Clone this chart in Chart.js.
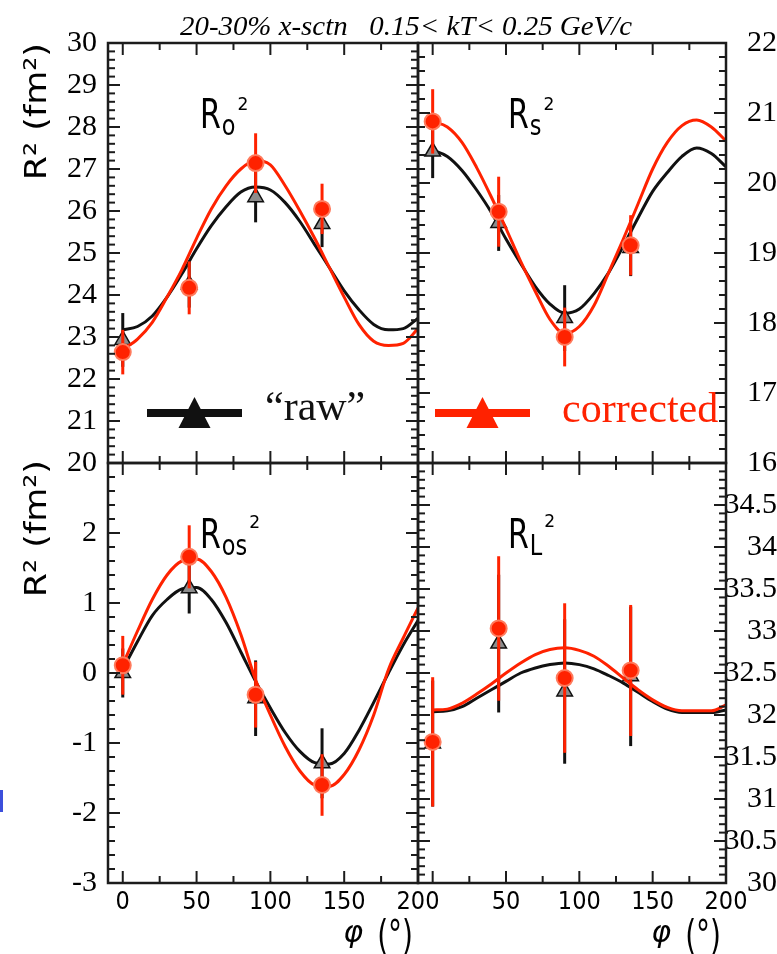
<!DOCTYPE html>
<html>
<head>
<meta charset="utf-8">
<script src="https://cdn.jsdelivr.net/npm/chart.js@4.4.1/dist/chart.umd.min.js"></script>
<style>
  html, body { margin: 0; padding: 0; background: #fff; }
  #fig { position: relative; width: 777px; height: 954px; overflow: hidden; background: #fff; }
  #fig canvas { position: absolute; }
  #edge { position: absolute; left: 0; top: 790px; width: 3px; height: 22px; background: #3c4fdc; }
</style>
</head>
<body>
<div id="fig">
  <canvas id="cTL" width="777" height="480" style="left:0;top:0"></canvas>
  <canvas id="cBL" width="777" height="514" style="left:0;top:440px"></canvas>
  <canvas id="cTR" width="377" height="480" style="left:400px;top:0"></canvas>
  <canvas id="cBR" width="377" height="514" style="left:400px;top:440px"></canvas>
  <div id="edge"></div>
</div>
<script>
// Azimuthal angles of the measured points and of the sampled fit curves (degrees)
const phiPts = [0, 45, 90, 135];
const phiFit = [0, 10, 20, 30, 40, 50, 60, 70, 80, 90, 100, 110, 120, 130, 140, 150, 160, 170, 180, 190, 200];

// R_o^2
const roRaw = [22.93, 24.25, 26.33, 25.69];
const roRawErr = [0.64, 0.55, 0.6, 0.55];
const roCor = [22.64, 24.17, 27.14, 26.05];
const roCorErr = [0.53, 0.63, 0.71, 0.6];
const roRawFit = [23.17, 23.25, 23.5, 23.95, 24.5, 25.1, 25.65, 26.1, 26.45, 26.57, 26.5, 26.2, 25.75, 25.2, 24.65, 24.1, 23.65, 23.3, 23.17, 23.2, 23.45];
const roCorFit = [22.7, 22.95, 23.35, 23.95, 24.6, 25.35, 26.05, 26.6, 27.0, 27.2, 27.1, 26.6, 26.0, 25.35, 24.65, 23.95, 23.3, 22.9, 22.8, 22.85, 23.2];

// R_s^2
const rsRaw = [20.45, 19.43, 18.07, 19.07];
const rsRawErr = [0.38, 0.4, 0.47, 0.4];
const rsCor = [20.88, 19.59, 17.8, 19.11];
const rsCorErr = [0.46, 0.5, 0.42, 0.43];
const rsRawFit = [20.47, 20.38, 20.18, 19.9, 19.58, 19.2, 18.85, 18.52, 18.27, 18.14, 18.2, 18.42, 18.72, 19.1, 19.5, 19.88, 20.15, 20.38, 20.5, 20.42, 20.23];
const rsCorFit = [20.88, 20.8, 20.58, 20.22, 19.8, 19.35, 18.88, 18.45, 18.05, 17.85, 17.95, 18.25, 18.72, 19.2, 19.7, 20.2, 20.58, 20.82, 20.9, 20.8, 20.6];

// R_os^2
const rosRaw = [0.0, 1.21, -0.36, -1.29];
const rosRawErr = [0.35, 0.36, 0.54, 0.5];
const rosCor = [0.11, 1.66, -0.31, -1.6];
const rosCorErr = [0.42, 0.45, 0.47, 0.44];
const rosRawFit = [0.05, 0.45, 0.82, 1.05, 1.2, 1.22, 1.05, 0.72, 0.3, -0.12, -0.5, -0.85, -1.12, -1.28, -1.3, -1.15, -0.82, -0.42, 0.0, 0.4, 0.75];
const rosCorFit = [0.12, 0.6, 1.05, 1.4, 1.6, 1.63, 1.45, 1.08, 0.55, -0.1, -0.6, -1.05, -1.4, -1.6, -1.62, -1.45, -1.1, -0.6, 0.05, 0.5, 0.93];

// R_L^2
const rlRaw = [31.66, 32.85, 32.28, 32.46];
const rlRawErr = [0.75, 0.82, 0.86, 0.83];
const rlCor = [31.68, 33.03, 32.44, 32.53];
const rlCorErr = [0.77, 0.86, 0.89, 0.78];
const rlRawFit = [32.04, 32.05, 32.1, 32.2, 32.3, 32.4, 32.5, 32.56, 32.6, 32.62, 32.6, 32.55, 32.47, 32.38, 32.27, 32.16, 32.07, 32.03, 32.03, 32.03, 32.06];
const rlCorFit = [32.06, 32.07, 32.14, 32.25, 32.37, 32.5, 32.62, 32.72, 32.78, 32.8, 32.77, 32.7, 32.58, 32.44, 32.3, 32.18, 32.09, 32.05, 32.05, 32.05, 32.12];

// Tick labels
const phiLabelsLeft = [0, 50, 100, 150, 200];
const phiLabelsRight = [50, 100, 150, 200];
const roTicks = [20, 21, 22, 23, 24, 25, 26, 27, 28, 29, 30];
const rsTicks = [16, 17, 18, 19, 20, 21, 22];
const rosTicks = [-3, -2, -1, 0, 1, 2];
const rlTicks = [30, 30.5, 31, 31.5, 32, 32.5, 33, 33.5, 34, 34.5];

const titleText = '20-30% x-sctn   0.15< kT< 0.25 GeV/c';

const RED = '#ff2200';
const RED_RING = '#ff7a5c';
const BLACK = '#111111';
const TRI_FILL = '#8c8c8c';
const SANS = '"DejaVu Sans", "Liberation Sans", sans-serif';
const SERIF = '"Liberation Serif", "DejaVu Serif", serif';
const TICK_SANS = '"DejaVu Sans Condensed", "Liberation Sans", sans-serif';

const pairs = (xs, ys) => xs.map((x, i) => ({ x, y: ys[i] }));

// text helper with optional horizontal squeeze; returns drawn width
function put(ctx, s, x, y, font, color, sx, align) {
  sx = sx || 1;
  ctx.save();
  ctx.font = font;
  ctx.fillStyle = color;
  ctx.textAlign = align || 'left';
  ctx.textBaseline = 'alphabetic';
  const w = ctx.measureText(s).width * sx;
  ctx.translate(x, y);
  ctx.scale(sx, 1);
  ctx.fillText(s, 0, 0);
  ctx.restore();
  return w;
}

// "R" with a subscript and a superscript 2
function radiusLabel(ctx, x, y, sub, supDy) {
  let cx = x;
  cx += put(ctx, 'R', cx, y, '40px ' + SANS, '#000', 0.75);
  cx += 1;
  cx += put(ctx, sub, cx, y + 7, '28px ' + SANS, '#000', 0.8);
  cx += 2;
  put(ctx, '2', cx, y + supDy, '18px ' + SANS, '#000', 0.95);
}

// rotated y-axis title, ending at the top of the panel
function yTitle(ctx, top) {
  ctx.save();
  ctx.translate(46, top);
  ctx.rotate(-Math.PI / 2);
  ctx.scale(1, 0.88);
  ctx.font = '35px ' + SANS;
  ctx.fillStyle = '#000';
  ctx.textAlign = 'right';
  ctx.textBaseline = 'alphabetic';
  ctx.fillText('R² (fm²)', 0, 0);
  ctx.restore();
}

// x-axis title at the right end of the axis
function xTitle(ctx, a) {
  const r = a.right - 5;
  const w = put(ctx, '(°)', r, a.bottom + 66, '40px ' + SANS, '#000', 0.7, 'right');
  put(ctx, 'φ', r - w - 14, a.bottom + 59, 'italic 30px ' + SANS, '#000', 1, 'right');
}

function legendItem(ctx, x0, x1, y, color, text, tx, ty) {
  ctx.save();
  ctx.strokeStyle = color;
  ctx.lineWidth = 8;
  ctx.beginPath();
  ctx.moveTo(x0, y);
  ctx.lineTo(x1, y);
  ctx.stroke();
  const cx = (x0 + x1) / 2;
  ctx.fillStyle = color;
  ctx.beginPath();
  ctx.moveTo(cx, y - 16);
  ctx.lineTo(cx + 16, y + 15);
  ctx.lineTo(cx - 16, y + 15);
  ctx.closePath();
  ctx.fill();
  ctx.restore();
  put(ctx, text, tx, ty, '42px ' + SERIF, color, 1);
}

// vertical error bars, drawn just before their marker dataset
const errorBars = {
  id: 'errorBars',
  beforeDatasetDraw(chart, args) {
    const ds = chart.data.datasets[args.index];
    if (!ds.errors) return;
    const { ctx, scales: { x, y } } = chart;
    ctx.save();
    ctx.strokeStyle = ds.errorColor;
    ctx.lineWidth = 3;
    ds.data.forEach((p, i) => {
      const e = ds.errors[i];
      const px = x.getPixelForValue(p.x);
      ctx.beginPath();
      ctx.moveTo(px, y.getPixelForValue(p.y - e));
      ctx.lineTo(px, y.getPixelForValue(p.y + e));
      ctx.stroke();
    });
    ctx.restore();
  }
};

// box frame with inward major/minor ticks on all four sides
const frame = {
  id: 'frame',
  afterDraw(chart, args, o) {
    const { ctx, chartArea: a, scales: { x, y } } = chart;
    ctx.save();
    ctx.strokeStyle = '#1c1c1c';
    ctx.lineWidth = 2;
    const seg = (x1, y1, x2, y2) => { ctx.beginPath(); ctx.moveTo(x1, y1); ctx.lineTo(x2, y2); ctx.stroke(); };
    const each = (min, max, minor, major, fn) => {
      for (let i = Math.ceil(min / minor - 1e-9); i * minor <= max + 1e-9; i++) {
        const v = i * minor;
        const isMajor = Math.abs(v / major - Math.round(v / major)) < 1e-6;
        fn(v, isMajor ? 12 : 7);
      }
    };
    each(x.min, x.max, o.xMinor, o.xMajor, (v, L) => {
      const px = x.getPixelForValue(v);
      seg(px, a.bottom, px, a.bottom - L);
      seg(px, a.top, px, a.top + L);
    });
    each(y.min, y.max, o.yMinor, o.yMajor, (v, L) => {
      const py = y.getPixelForValue(v);
      seg(a.left, py, a.left + L, py);
      seg(a.right, py, a.right - L, py);
    });
    ctx.lineWidth = 2.5;
    ctx.strokeRect(a.left, a.top, a.right - a.left, a.bottom - a.top);
    ctx.restore();
  }
};

// right-hand labels end at a common edge 44px beyond the frame
function rightPad(labels) {
  const c = document.createElement('canvas').getContext('2d');
  c.font = '30px ' + SERIF;
  const widest = Math.max(...labels.map(v => c.measureText(String(v)).width));
  return 44 - widest;
}

function panel(id, p) {
  const yRight = p.side === 'right';
  return new Chart(document.getElementById(id), {
    type: 'line',
    data: {
      datasets: [
        {
          label: 'corrected', data: pairs(phiPts, p.cor), errors: p.corErr, errorColor: RED,
          showLine: false, pointStyle: 'circle', pointRadius: 8,
          pointBackgroundColor: RED, pointBorderColor: RED_RING, pointBorderWidth: 2
        },
        {
          label: 'corrected fit', data: pairs(phiFit, p.corFit), borderColor: RED, borderWidth: 3,
          pointRadius: 0, cubicInterpolationMode: 'monotone', fill: false
        },
        {
          label: 'raw', data: pairs(phiPts, p.raw), errors: p.rawErr, errorColor: BLACK,
          showLine: false, pointStyle: 'triangle', pointRadius: 9,
          pointBackgroundColor: TRI_FILL, pointBorderColor: BLACK, pointBorderWidth: 1.5
        },
        {
          label: 'raw fit', data: pairs(phiFit, p.rawFit), borderColor: BLACK, borderWidth: 3,
          pointRadius: 0, cubicInterpolationMode: 'monotone', fill: false
        }
      ]
    },
    options: {
      responsive: false,
      animation: false,
      devicePixelRatio: 1,
      layout: { padding: p.padding },
      events: [],
      plugins: {
        legend: { display: false },
        tooltip: { enabled: false },
        frame: { xMajor: 50, xMinor: 25, yMajor: p.yMajor, yMinor: p.yMinor }
      },
      scales: {
        x: {
          type: 'linear', min: -10, max: 200,
          display: !!p.xLabels,
          grid: { display: false, drawTicks: false },
          border: { display: false },
          ticks: {
            autoSkip: false, padding: 4, color: '#000', maxRotation: 0,
            font: { family: TICK_SANS, size: 25 },
            callback: v => String(v)
          },
          afterBuildTicks: s => { if (p.xLabels) s.ticks = p.xLabels.map(v => ({ value: v })); },
          afterFit: s => { s.height = p.xLabels ? 71 : 0; s.paddingLeft = 0; s.paddingRight = 0; }
        },
        y: {
          type: 'linear', min: p.yMin, max: p.yMax,
          position: yRight ? 'right' : 'left',
          grid: { display: false, drawTicks: false },
          border: { display: false },
          ticks: {
            autoSkip: false, color: '#000',
            padding: yRight ? rightPad(p.yLabels) : 11,
            crossAlign: yRight ? 'far' : 'near',
            font: { family: SERIF, size: 30 },
            callback: v => String(v)
          },
          afterBuildTicks: s => { s.ticks = p.yLabels.map(v => ({ value: v })); },
          afterFit: s => { s.width = yRight ? 51 : 108; s.paddingTop = 0; s.paddingBottom = 0; }
        }
      }
    },
    plugins: [errorBars, frame, { id: 'notes', afterDraw: c => p.notes(c.ctx, c.chartArea) }]
  });
}

panel('cTL', {
  raw: roRaw, rawErr: roRawErr, cor: roCor, corErr: roCorErr, rawFit: roRawFit, corFit: roCorFit,
  yMin: 20, yMax: 30, yMajor: 1, yMinor: 0.2, yLabels: roTicks, side: 'left',
  padding: { left: 0, top: 43, right: 359, bottom: 17 },
  notes: (ctx, a) => {
    ctx.save();
    ctx.font = 'italic 28px ' + SERIF;
    const w = ctx.measureText(titleText).width;
    ctx.restore();
    put(ctx, titleText, 180, 35, 'italic 28px ' + SERIF, '#000', 452 / w);
    yTitle(ctx, a.top);
    radiusLabel(ctx, a.left + 92, a.top + 85, 'o', -18);
    legendItem(ctx, a.left + 39, a.left + 134, a.top + 370, BLACK, '“raw”', a.left + 157, a.top + 377);
  }
});

panel('cBL', {
  raw: rosRaw, rawErr: rosRawErr, cor: rosCor, corErr: rosCorErr, rawFit: rosRawFit, corFit: rosCorFit,
  yMin: -3, yMax: 3, yMajor: 1, yMinor: 0.2, yLabels: rosTicks, side: 'left', xLabels: phiLabelsLeft,
  padding: { left: 0, top: 23, right: 359, bottom: 0 },
  notes: (ctx, a) => {
    yTitle(ctx, a.top - 3);
    radiusLabel(ctx, a.left + 92, a.top + 85, 'os', -20);
    xTitle(ctx, a);
  }
});

panel('cTR', {
  raw: rsRaw, rawErr: rsRawErr, cor: rsCor, corErr: rsCorErr, rawFit: rsRawFit, corFit: rsCorFit,
  yMin: 16, yMax: 22, yMajor: 1, yMinor: 0.2, yLabels: rsTicks, side: 'right',
  padding: { left: 18, top: 43, right: 0, bottom: 17 },
  notes: (ctx, a) => {
    radiusLabel(ctx, a.left + 90, a.top + 85, 's', -18);
    legendItem(ctx, a.left + 17, a.left + 112, a.top + 370, RED, 'corrected', a.left + 144, a.top + 379);
  }
});

panel('cBR', {
  raw: rlRaw, rawErr: rlRawErr, cor: rlCor, corErr: rlCorErr, rawFit: rlRawFit, corFit: rlCorFit,
  yMin: 30, yMax: 35, yMajor: 0.5, yMinor: 0.1, yLabels: rlTicks, side: 'right', xLabels: phiLabelsRight,
  padding: { left: 18, top: 23, right: 0, bottom: 0 },
  notes: (ctx, a) => {
    radiusLabel(ctx, a.left + 90, a.top + 85, 'L', -21);
    xTitle(ctx, a);
  }
});
</script>
</body>
</html>
